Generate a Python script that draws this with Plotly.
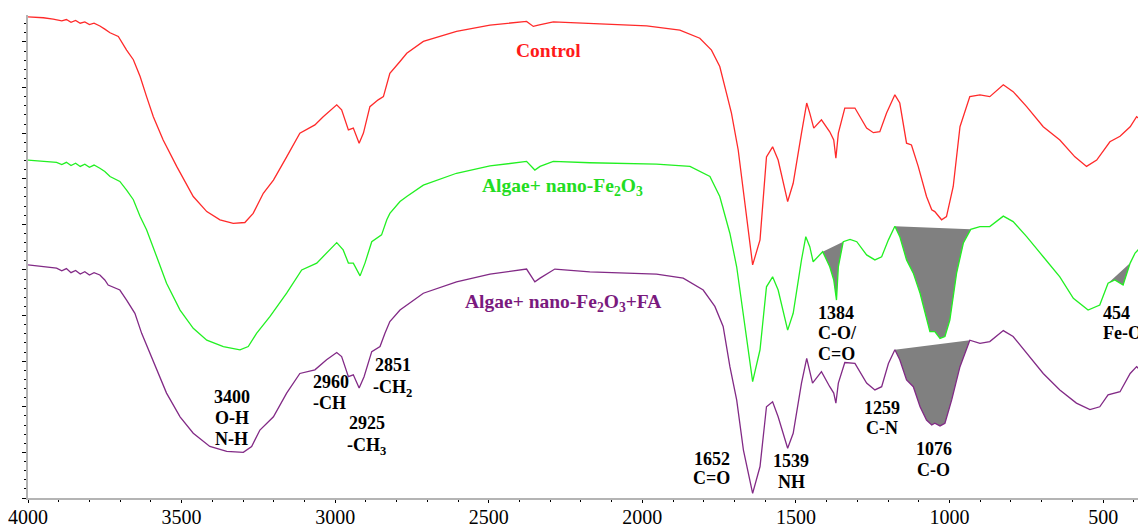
import plotly.graph_objects as go

# ---------------- data (wavenumber cm-1, relative transmittance) ----------------
control_w = [4000, 3950, 3918, 3890, 3875, 3860, 3845, 3830, 3815, 3800, 3785, 3766, 3750, 3733, 3706,
             3679, 3657, 3635, 3614, 3592, 3560, 3516, 3462, 3418, 3375, 3332, 3294, 3267, 3234, 3201,
             3158, 3115, 3066, 3039, 2995, 2979, 2957, 2941, 2922, 2908, 2887, 2860, 2843, 2832, 2822,
             2789, 2767, 2713, 2605, 2496, 2377, 2355, 2339, 2290, 2171, 1986, 1878, 1813, 1775, 1748,
             1726, 1710, 1688, 1666, 1641, 1617, 1596, 1576, 1558, 1527, 1509, 1482, 1465, 1455, 1442,
             1417, 1390, 1377, 1370, 1362, 1341, 1308, 1270, 1248, 1227, 1205, 1178, 1162, 1140, 1124,
             1102, 1075, 1058, 1048, 1026, 1010, 988, 966, 934, 901, 869, 825, 793, 749, 695,
             641, 592, 554, 521, 478, 445, 412, 391, 385]
control_t = [105.5, 105.3, 105.0, 104.6, 104.9, 104.3, 104.7, 104.1, 104.4, 103.8, 104.1, 103.5, 102.8, 102.0, 101.2,
             98.2, 96.1, 92.4, 88.0, 83.6, 78.5, 72.7, 66.1, 62.8, 61.0, 60.2, 60.4, 62.4, 66.8, 69.7,
             74.8, 80.0, 81.8, 83.6, 86.2, 85.1, 80.7, 81.1, 77.8, 80.0, 85.8, 87.3, 88.0, 90.9, 93.1,
             95.7, 97.5, 100.1, 102.3, 103.7, 104.5, 103.4, 103.7, 104.4, 104.0, 103.5, 102.6, 100.8, 98.2, 94.6,
             88.7, 84.4, 76.3, 63.9, 51.1, 56.6, 74.8, 77.0, 74.1, 65.0, 69.0, 80.0, 86.6, 84.4, 81.1,
             82.9, 80.3, 78.5, 74.5, 80.0, 85.5, 85.5, 81.1, 80.1, 80.3, 84.4, 88.4, 86.6, 77.8, 77.4,
             72.7, 66.1, 63.2, 62.8, 61.0, 61.7, 68.3, 81.4, 88.0, 88.4, 88.0, 90.6, 89.1, 85.8, 81.4,
             78.5, 74.8, 72.7, 74.1, 78.1, 79.3, 81.4, 83.6, 83.3]

fe_w = [4000, 3950, 3907, 3890, 3875, 3860, 3845, 3830, 3815, 3800, 3785, 3766, 3750, 3733, 3701,
        3679, 3657, 3635, 3614, 3581, 3549, 3505, 3462, 3418, 3364, 3310, 3283, 3256, 3212, 3158,
        3109, 3060, 2995, 2974, 2957, 2941, 2919, 2903, 2881, 2849, 2832, 2822, 2789, 2767, 2713,
        2605, 2496, 2377, 2350, 2333, 2290, 2171, 1954, 1845, 1780, 1748, 1715, 1693, 1671, 1641,
        1617, 1596, 1576, 1558, 1527, 1509, 1482, 1468, 1455, 1444, 1413, 1390, 1377, 1368, 1362,
        1346, 1324, 1302, 1270, 1243, 1221, 1199, 1178, 1162, 1140, 1118, 1096, 1075, 1064, 1048,
        1031, 1015, 999, 977, 955, 931, 901, 869, 825, 793, 749, 695, 641, 597, 549,
        511, 484, 462, 435, 412, 396, 385]
fe_t = [74.1, 73.9, 73.6, 73.1, 73.6, 72.9, 73.4, 72.7, 73.2, 72.5, 73.0, 72.3, 71.6, 70.5, 69.4,
        67.5, 65.4, 61.7, 58.8, 52.9, 47.1, 41.2, 37.2, 34.6, 33.2, 32.5, 33.2, 36.1, 39.8, 44.9,
        50.0, 51.5, 56.0, 54.4, 51.5, 51.5, 48.7, 51.5, 56.2, 57.7, 61.0, 62.4, 65.0, 66.1, 68.6,
        71.2, 72.8, 73.8, 71.9, 72.7, 73.8, 73.5, 73.2, 72.7, 70.5, 66.1, 58.0, 50.7, 39.8, 25.5,
        32.5, 46.3, 48.5, 45.6, 36.8, 40.5, 52.2, 57.3, 55.1, 51.8, 54.0, 50.7, 47.8, 43.4, 50.7,
        56.2, 56.7, 56.2, 53.3, 52.2, 52.9, 56.6, 59.6, 57.3, 52.2, 49.3, 44.9, 39.0, 36.5, 36.5,
        35.0, 35.4, 39.0, 49.3, 55.9, 58.9, 59.5, 59.5, 61.8, 60.6, 57.3, 52.9, 48.5, 43.8, 41.2,
        42.3, 47.1, 47.8, 46.7, 51.5, 53.7, 54.5]

fa_w = [4000, 3950, 3907, 3890, 3875, 3860, 3845, 3830, 3815, 3800, 3785, 3766, 3750, 3739, 3701,
        3679, 3652, 3630, 3608, 3581, 3549, 3505, 3462, 3408, 3353, 3299, 3272, 3245, 3201, 3158,
        3115, 3066, 3028, 2995, 2979, 2957, 2941, 2922, 2906, 2881, 2854, 2838, 2822, 2789, 2767,
        2713, 2605, 2496, 2377, 2350, 2333, 2285, 2171, 1954, 1867, 1802, 1764, 1737, 1715, 1693,
        1671, 1641, 1617, 1596, 1576, 1558, 1527, 1509, 1482, 1465, 1446, 1417, 1390, 1377, 1370,
        1362, 1341, 1308, 1270, 1243, 1221, 1199, 1178, 1162, 1140, 1118, 1096, 1075, 1058, 1048,
        1031, 1015, 993, 966, 934, 901, 869, 825, 793, 749, 695, 641, 587, 543, 511,
        484, 445, 412, 391, 385]
fa_t = [51.1, 50.8, 50.4, 49.8, 50.3, 49.4, 49.9, 49.1, 49.6, 48.9, 49.4, 48.9, 47.8, 46.7, 45.6,
        43.4, 40.5, 36.1, 32.5, 28.1, 23.0, 17.8, 14.2, 11.3, 10.2, 10.0, 11.3, 14.9, 17.8, 23.0,
        27.3, 28.1, 30.3, 31.9, 31.0, 26.6, 27.0, 24.1, 26.6, 32.1, 33.2, 36.1, 38.7, 41.2, 42.3,
        44.9, 47.4, 49.1, 50.2, 47.4, 48.2, 50.2, 49.6, 49.1, 48.2, 45.6, 42.0, 37.6, 28.8, 21.5,
        10.5, 1.0, 6.9, 20.0, 21.1, 17.8, 10.9, 14.2, 25.2, 30.6, 25.2, 27.7, 24.4, 23.0, 20.8,
        25.2, 29.7, 29.5, 25.2, 23.7, 24.4, 29.5, 32.5, 30.3, 25.9, 24.4, 20.0, 17.1, 16.0, 16.4,
        15.8, 16.4, 21.5, 28.8, 34.6, 33.9, 34.3, 36.7, 35.4, 31.7, 27.3, 23.7, 20.8, 19.4, 20.0,
        22.6, 23.3, 27.3, 28.8, 28.4]

# shaded band limits (cm-1): (series, high, low)
shaded_bands = [("fe", 1413, 1346), ("fe", 1178, 931), ("fe", 484, 412), ("fa", 1178, 934)]

x_ticks = [4000, 3500, 3000, 2500, 2000, 1500, 1000, 500]

# ---------------- figure ----------------
series = {"fe": (fe_w, fe_t), "fa": (fa_w, fa_t)}
fig = go.Figure()

for key, hi, lo in shaded_bands:
    w, t = series[key]
    xs = [a for a in w if lo <= a <= hi]
    ys = [b for a, b in zip(w, t) if lo <= a <= hi]
    fig.add_trace(go.Scatter(x=xs, y=ys, mode="lines", fill="toself",
                             fillcolor="#808080", line=dict(width=0, color="#808080"),
                             hoverinfo="skip", showlegend=False))

fig.add_trace(go.Scatter(x=control_w, y=control_t, mode="lines",
                         line=dict(color="#ff2a2a", width=1.3), name="Control"))
fig.add_trace(go.Scatter(x=fe_w, y=fe_t, mode="lines",
                         line=dict(color="#22f022", width=1.3), name="Algae+ nano-Fe2O3"))
fig.add_trace(go.Scatter(x=fa_w, y=fa_t, mode="lines",
                         line=dict(color="#822a86", width=1.3), name="Algae+ nano-Fe2O3+FA"))

serif = "Liberation Serif, Times New Roman, serif"

labels = [
    ("Control", 2304, 98.2, "#ff1a1a", "center", 19.5),
    ("Algae+ nano-Fe<sub>2</sub>O<sub>3</sub>", 2260, 68.2, "#22dd22", "center", 19.5),
    ("Algae+ nano-Fe<sub>2</sub>O<sub>3</sub>+FA", 2259, 42.8, "#7a1a7e", "center", 19.5),
    ("3400", 3336, 22.1, "black", "center", 18), ("O-H", 3336, 17.5, "black", "center", 18),
    ("N-H", 3336, 12.9, "black", "center", 18),
    ("2960", 3079, 25.4, "black", "left", 18), ("-CH", 3079, 20.8, "black", "left", 18),
    ("2925", 2897, 16.4, "black", "center", 18), ("-CH<sub>3</sub>", 2897, 11.4, "black", "center", 18),
    ("2851", 2812, 29.2, "black", "center", 18), ("-CH<sub>2</sub>", 2812, 24.1, "black", "center", 18),
    ("1652", 1774, 8.6, "black", "center", 18), ("C=O", 1774, 4.4, "black", "center", 18),
    ("1539", 1516, 8.1, "black", "center", 18), ("NH", 1516, 3.5, "black", "center", 18),
    ("1384", 1435, 40.6, "black", "left", 18), ("C-O/", 1435, 36.2, "black", "left", 18),
    ("C=O", 1435, 31.6, "black", "left", 18),
    ("1259", 1220, 19.7, "black", "center", 18), ("C-N", 1220, 15.4, "black", "center", 18),
    ("1076", 1051, 10.7, "black", "center", 18), ("C-O", 1051, 6.1, "black", "center", 18),
    ("454", 506, 40.6, "black", "left", 18), ("Fe-O", 506, 36.2, "black", "left", 18),
]
for text, x, y, col, anchor, fs in labels:
    fig.add_annotation(x=x, y=y, text="<b>" + text + "</b>", showarrow=False,
                       xanchor=anchor, yanchor="middle",
                       font=dict(family=serif, size=fs, color=col))

# page body adds an 8 px offset, so the figure is sized to fit the 1146x530 window
fig.update_layout(
    width=1138, height=522,
    margin=dict(l=20, r=6, t=7, b=32, pad=0, autoexpand=False),
    paper_bgcolor="white", plot_bgcolor="white",
    showlegend=False,
    xaxis=dict(range=[4000, 380], tickvals=x_ticks, ticktext=[str(v) for v in x_ticks],
               automargin=False, ticklabelstandoff=-3,
               showgrid=False, zeroline=False, showline=True, linecolor="#b4b4b4", linewidth=2,
               ticks="outside", ticklen=3, tickcolor="black", tickwidth=1,
               minor=dict(dtick=100, ticks="outside", ticklen=2, tickcolor="black", tickwidth=1),
               tickfont=dict(family=serif, size=20, color="black")),
    yaxis=dict(range=[0, 105.9], dtick=10, showticklabels=False, automargin=False,
               showgrid=False, zeroline=False, showline=True, linecolor="#b4b4b4", linewidth=2,
               ticks="outside", ticklen=4, tickcolor="black", tickwidth=1,
               minor=dict(dtick=2, ticks="outside", ticklen=2, tickcolor="black", tickwidth=1)),
)

fig.write_html("out.html")
